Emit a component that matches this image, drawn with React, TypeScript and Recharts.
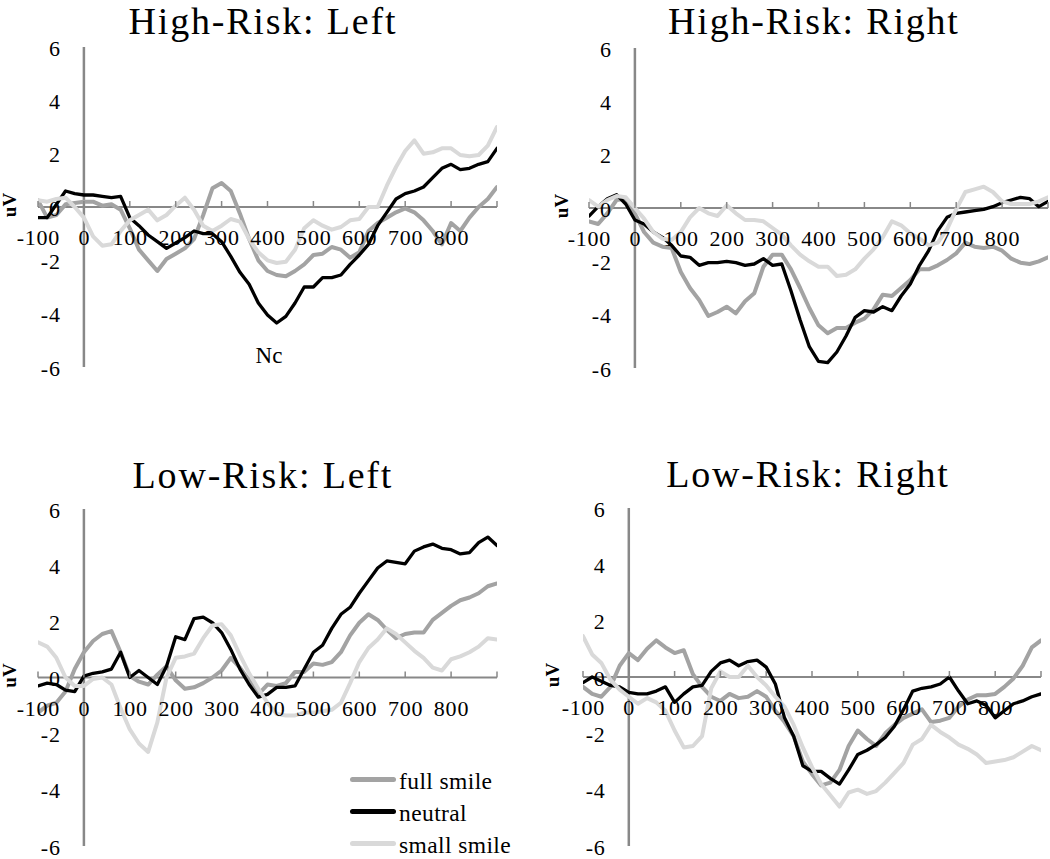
import React from 'react';
import { LineChart, Line, XAxis, YAxis, ReferenceLine, Legend } from 'recharts';

// ---- data ----
const times = [
  -100, -80, -60, -40, -20, 0, 20, 40, 60, 80,
  100, 120, 140, 160, 180, 200, 220, 240, 260, 280,
  300, 320, 340, 360, 380, 400, 420, 440, 460, 480,
  500, 520, 540, 560, 580, 600, 620, 640, 660, 680,
  700, 720, 740, 760, 780, 800, 820, 840, 860, 880,
  900,
];
const xTicks = [-100, 0, 100, 200, 300, 400, 500, 600, 700, 800, 900];
const xTickLabels = ['-100', '0', '100', '200', '300', '400', '500', '600', '700', '800', ''];
const yTicks = [-6, -4, -2, 0, 2, 4, 6];

const seriesNames = ['full smile', 'neutral', 'small smile'];
const panelTitles = ['High-Risk: Left', 'High-Risk: Right', 'Low-Risk: Left', 'Low-Risk: Right'];
const yAxisTitle = 'uV';
const noteText = 'Nc';

// High-Risk: Left
const hrLeftFull = [
  0.25, -0.4, -0.3, 0.1, 0.15, 0.2, 0.2, 0.05, 0.1, -0.1,
  -0.8, -1.6, -2.0, -2.4, -1.95, -1.75, -1.55, -1.2, -0.3, 0.7,
  0.9, 0.6, -0.25, -1.2, -2.0, -2.4, -2.55, -2.6, -2.4, -2.15,
  -1.8, -1.75, -1.5, -1.6, -1.9, -1.7, -0.9, -0.6, -0.4, -0.2,
  -0.05, -0.2, -0.5, -0.9, -1.4, -0.6, -0.9, -0.4, 0.0, 0.3,
  0.75,
];
const hrLeftNeutral = [
  -0.4, -0.4, 0.1, 0.6, 0.5, 0.45, 0.45, 0.4, 0.35, 0.4,
  -0.4, -0.7, -1.05, -1.3, -1.55, -1.35, -1.15, -0.9, -1.0, -1.0,
  -1.3, -1.85, -2.45, -2.9, -3.6, -4.05, -4.35, -4.1, -3.6, -3.0,
  -3.0, -2.65, -2.65, -2.55, -2.15, -1.8, -1.4, -0.7, -0.2, 0.3,
  0.5, 0.6, 0.75, 1.1, 1.45, 1.6, 1.4, 1.45, 1.6, 1.7,
  2.2,
];
const hrLeftSmall = [
  0.25, 0.2, 0.3, 0.35, 0.0, -0.4, -1.1, -1.45, -1.4, -0.9,
  -0.5, -0.3, -0.1, -0.5, -0.3, 0.05, 0.35, -0.1, -0.7, -0.9,
  -0.7, -0.45, -0.55, -1.2, -1.7, -2.0, -2.1, -2.05, -1.6, -0.8,
  -0.5, -0.7, -0.85, -0.75, -0.5, -0.45, 0.0, 0.0, 0.8, 1.5,
  2.1, 2.5, 2.0, 2.05, 2.2, 2.2, 1.95, 1.9, 1.95, 2.3,
  3.0,
];

// High-Risk: Right
const hrRightFull = [
  -0.5, -0.6, -0.2, 0.3, 0.35, -0.2, -0.9, -1.3, -1.45, -1.5,
  -2.4, -3.0, -3.45, -4.05, -3.9, -3.7, -3.95, -3.5, -3.2, -2.2,
  -1.75, -1.75, -2.3, -3.0, -3.75, -4.4, -4.7, -4.5, -4.5, -4.3,
  -4.15, -3.8, -3.25, -3.3, -3.0, -2.7, -2.3, -2.3, -2.15, -1.95,
  -1.7, -1.3, -1.45, -1.5, -1.45, -1.6, -1.9, -2.05, -2.1, -2.0,
  -1.85,
];
const hrRightNeutral = [
  -0.3, 0.05, 0.35, 0.5, 0.15, -0.45, -0.6, -0.9, -1.1, -1.4,
  -1.8, -1.85, -2.15, -2.05, -2.05, -2.0, -2.05, -2.15, -2.1, -1.9,
  -2.15, -2.1, -3.1, -4.2, -5.2, -5.75, -5.8, -5.4, -4.8, -4.1,
  -3.85, -3.9, -3.7, -3.85, -3.3, -2.85, -2.15, -1.6, -0.85, -0.35,
  -0.2, -0.15, -0.1, -0.05, 0.05, 0.2, 0.3, 0.4, 0.35, 0.05,
  0.25,
];
const hrRightSmall = [
  0.3, 0.05, 0.3, 0.45, 0.4, 0.0, -0.4, -0.9, -1.15, -1.2,
  -0.9, -0.35, 0.0, -0.2, -0.3, 0.1, -0.2, -0.45, -0.45, -0.5,
  -0.75, -1.0, -1.4, -1.75, -2.0, -2.2, -2.2, -2.55, -2.5, -2.3,
  -1.9, -1.55, -1.1, -0.5, -0.65, -0.95, -1.15, -1.4, -1.3, -0.8,
  -0.05, 0.6, 0.7, 0.8, 0.6, 0.25, 0.15, 0.15, 0.15, 0.25,
  0.4,
];

// Low-Risk: Left
const lrLeftFull = [
  -1.25, -1.0, -0.9, -0.5, 0.3, 0.9, 1.3, 1.55, 1.65, 0.9,
  0.05, -0.15, -0.25, 0.1, 0.4, -0.1, -0.4, -0.35, -0.2, 0.0,
  0.25, 0.7, 0.35, -0.1, -0.6, -0.25, -0.3, -0.2, 0.2, 0.2,
  0.5, 0.45, 0.55, 0.9, 1.5, 1.95, 2.25, 2.05, 1.7, 1.4,
  1.55, 1.6, 1.6, 2.05, 2.3, 2.55, 2.75, 2.85, 3.0, 3.25,
  3.35,
];
const lrLeftNeutral = [
  -0.3, -0.2, -0.25, -0.45, -0.5, 0.05, 0.15, 0.2, 0.3, 0.9,
  0.0, 0.25, 0.0, -0.25, 0.4, 1.45, 1.35, 2.1, 2.15, 1.95,
  1.6, 1.0, 0.3, -0.25, -0.7, -0.6, -0.35, -0.35, -0.3, 0.3,
  0.9, 1.15, 1.75, 2.25, 2.5, 3.0, 3.45, 3.9, 4.15, 4.1,
  4.05, 4.5, 4.65, 4.75, 4.6, 4.55, 4.4, 4.45, 4.8, 5.0,
  4.7,
];
const lrLeftSmall = [
  1.25, 1.1, 0.7, 0.0, -0.3, -0.3, -0.05, 0.0, -0.25, -1.1,
  -1.85, -2.35, -2.65, -1.6, 0.0, 0.7, 0.75, 0.85, 1.4, 1.85,
  1.9, 1.5, 0.8, 0.15, -0.4, -0.9, -1.3, -1.35, -1.35, -1.25,
  -1.25, -1.2, -1.15, -0.9, -0.2, 0.55, 1.05, 1.35, 1.75, 1.55,
  1.25, 0.95, 0.7, 0.35, 0.25, 0.65, 0.75, 0.9, 1.1, 1.4,
  1.35,
];

// Low-Risk: Right
const lrRightFull = [
  -0.35, -0.6, -0.7, -0.35, 0.4, 0.85, 0.6, 1.0, 1.3, 1.05,
  0.85, 0.95, 0.1, -0.35, -0.7, -0.85, -0.6, -0.75, -0.7, -0.5,
  -0.7, -1.2, -1.6, -2.1, -3.0, -3.45, -3.85, -3.75, -3.3, -2.45,
  -1.9, -2.2, -2.45, -2.0, -1.7, -1.45, -1.3, -1.15, -1.6, -1.55,
  -1.45, -1.05, -0.8, -0.65, -0.65, -0.6, -0.35, -0.05, 0.4, 1.05,
  1.3,
];
const lrRightNeutral = [
  -0.2, 0.0, -0.15, -0.3, -0.35, -0.55, -0.6, -0.6, -0.5, -0.35,
  -0.9, -0.6, -0.35, -0.3, 0.2, 0.5, 0.6, 0.4, 0.55, 0.6,
  0.35, -0.25, -1.45, -2.1, -3.15, -3.35, -3.35, -3.6, -3.8, -3.3,
  -2.75, -2.6, -2.4, -2.15, -1.75, -1.15, -0.5, -0.4, -0.35, -0.25,
  0.0, -0.5, -0.95, -0.85, -1.0, -1.45, -1.2, -0.95, -0.85, -0.7,
  -0.6,
];
const lrRightSmall = [
  1.45, 0.8, 0.5, -0.1, -0.45, -0.7, -0.95, -0.75, -0.9, -1.2,
  -1.9, -2.5, -2.45, -2.1, -0.4, 0.2, 0.0, 0.0, 0.4, 0.0,
  -0.3, -0.7, -1.05, -1.7, -2.5, -3.2, -3.8, -4.2, -4.6, -4.1,
  -4.0, -4.15, -4.05, -3.75, -3.4, -3.05, -2.4, -2.2, -1.7, -1.95,
  -2.15, -2.4, -2.55, -2.75, -3.05, -3.0, -2.95, -2.85, -2.65, -2.45,
  -2.6,
];

// ---- styling ----
const FONT = "'Liberation Serif', 'Times New Roman', serif";
const AXIS_COLOR = '#888888';
const TICK_FONT_SIZE = 22;
const TICK_SPACING = 0.8;
const TITLE_FONT_SIZE = 38;
const TITLE_SPACING = 1.8;
const seriesStyles = [
  { key: 'full', color: '#a3a3a3', width: 4 },
  { key: 'neutral', color: '#000000', width: 3.3 },
  { key: 'small', color: '#d9d9d9', width: 4 },
];

type Margin = { top: number; right: number; bottom: number; left: number };
type PanelDef = {
  title: string;
  left: number;
  top: number;
  width: number;
  height: number;
  margin: Margin; // plot-area margins (axis thickness of 1px is subtracted below)
  titleX: number;
  titleBase: number;
  uvOffset: number;
  full: number[];
  neutral: number[];
  small: number[];
  legend: boolean;
  note: boolean;
};

const panels: PanelDef[] = [
  {
    title: panelTitles[0], left: 0, top: 0, width: 525, height: 430,
    margin: { top: 47, right: 28, bottom: 63, left: 38 },
    titleX: 262, titleBase: 34, uvOffset: 29,
    full: hrLeftFull, neutral: hrLeftNeutral, small: hrLeftSmall, legend: false, note: true,
  },
  {
    title: panelTitles[1], left: 525, top: 0, width: 525, height: 430,
    margin: { top: 48, right: 2, bottom: 62, left: 64 },
    titleX: 813, titleBase: 34, uvOffset: 28,
    full: hrRightFull, neutral: hrRightNeutral, small: hrRightSmall, legend: false, note: false,
  },
  {
    title: panelTitles[2], left: 0, top: 430, width: 525, height: 429,
    margin: { top: 79, right: 28, bottom: 13, left: 38 },
    titleX: 262, titleBase: 488, uvOffset: 29,
    full: lrLeftFull, neutral: lrLeftNeutral, small: lrLeftSmall, legend: true, note: false,
  },
  {
    title: panelTitles[3], left: 525, top: 430, width: 525, height: 429,
    margin: { top: 78, right: 9, bottom: 13, left: 58 },
    titleX: 807, titleBase: 487, uvOffset: 31,
    full: lrRightFull, neutral: lrRightNeutral, small: lrRightSmall, legend: false, note: false,
  },
];

const X_DOMAIN: [number, number] = [-100, 900];
const Y_DOMAIN: [number, number] = [-6, 6];
const AXIS_THICK = 1;

const renderLegend = (props: any) => {
  const payload = props.payload || [];
  return (
    <div style={{ fontFamily: FONT, fontSize: 23.5, color: '#000', letterSpacing: 0.4, lineHeight: '24px' }}>
      {payload.map((p: any) => (
        <div key={p.value} style={{ display: 'flex', alignItems: 'center', height: 32 }}>
          <span
            style={{
              display: 'inline-block',
              width: 46,
              height: 5,
              borderRadius: 2.5,
              background: p.color,
              marginRight: 3,
              flex: 'none',
            }}
          />
          <span style={{ position: 'relative', top: 2, whiteSpace: 'nowrap' }}>{p.value}</span>
        </div>
      ))}
    </div>
  );
};

function Panel({ def }: { def: PanelDef }) {
  const data = times.map((t, i) => ({
    t,
    full: def.full[i],
    neutral: def.neutral[i],
    small: def.small[i],
  }));
  const plotW = def.width - def.margin.left - def.margin.right;
  const plotH = def.height - def.margin.top - def.margin.bottom;
  const zeroFracX = (0 - X_DOMAIN[0]) / (X_DOMAIN[1] - X_DOMAIN[0]);
  const zeroFracY = (Y_DOMAIN[1] - 0) / (Y_DOMAIN[1] - Y_DOMAIN[0]);
  const zeroXOff = plotW * zeroFracX;
  const zeroYFromBottom = plotH * (1 - zeroFracY);
  const chartMargin = {
    top: def.margin.top,
    right: def.margin.right,
    bottom: def.margin.bottom - AXIS_THICK,
    left: def.margin.left - AXIS_THICK,
  };

  const XTick = (props: any) => {
    const { x, y, payload, index } = props;
    const zy = y - zeroYFromBottom;
    const label = xTickLabels[xTicks.indexOf(payload.value)] ?? String(payload.value);
    return (
      <g key={`xt-${index}`}>
        <line x1={x} x2={x} y1={zy - 6} y2={zy} stroke={AXIS_COLOR} strokeWidth={1.5} />
        {label !== '' && (
          <text
            x={x + TICK_SPACING / 2}
            y={zy + 38}
            textAnchor="middle"
            fontFamily={FONT}
            fontSize={TICK_FONT_SIZE}
            letterSpacing={TICK_SPACING}
            fill="#000"
          >
            {label}
          </text>
        )}
      </g>
    );
  };

  const YTick = (props: any) => {
    const { x, y, payload, index } = props;
    return (
      <text
        key={`yt-${index}`}
        x={x + zeroXOff - 24 + TICK_SPACING}
        y={y + 8.5}
        textAnchor="end"
        fontFamily={FONT}
        fontSize={TICK_FONT_SIZE}
        letterSpacing={TICK_SPACING}
        fill="#000"
      >
        {payload.value}
      </text>
    );
  };

  return (
    <div
      style={{
        position: 'absolute',
        left: def.left,
        top: def.top,
        width: def.width,
        height: def.height,
      }}
    >
      <LineChart width={def.width} height={def.height} data={data} margin={chartMargin}>
        <XAxis
          dataKey="t"
          type="number"
          domain={X_DOMAIN}
          ticks={xTicks}
          interval={0}
          allowDataOverflow
          axisLine={false}
          tickLine={false}
          tickSize={0}
          tickMargin={0}
          height={AXIS_THICK}
          tick={XTick}
        />
        <YAxis
          type="number"
          domain={Y_DOMAIN}
          ticks={yTicks}
          interval={0}
          allowDataOverflow
          axisLine={false}
          tickLine={false}
          tickSize={0}
          tickMargin={0}
          width={AXIS_THICK}
          tick={YTick}
        />
        <ReferenceLine x={0} stroke={AXIS_COLOR} strokeWidth={2.5} />
        <ReferenceLine y={0} stroke={AXIS_COLOR} strokeWidth={2} />
        {seriesStyles.map((s, i) => (
          <Line
            key={s.key}
            dataKey={s.key}
            name={seriesNames[i]}
            type="linear"
            stroke={s.color}
            strokeWidth={s.width}
            strokeLinejoin="round"
            strokeLinecap="round"
            dot={false}
            activeDot={false}
            isAnimationActive={false}
          />
        ))}
        {def.legend && (
          <Legend
            layout="vertical"
            align="center"
            verticalAlign="middle"
            content={renderLegend}
            wrapperStyle={{ left: 350, top: 333, width: 175, height: 96 }}
          />
        )}
      </LineChart>
    </div>
  );
}

export default function App() {
  return (
    <div
      style={{
        position: 'absolute',
        left: 0,
        top: 0,
        width: 1050,
        height: 859,
        background: '#ffffff',
        overflow: 'hidden',
      }}
    >
      {panels.map((p, i) => (
        <Panel key={i} def={p} />
      ))}
      <svg
        width={1050}
        height={859}
        style={{ position: 'absolute', left: 0, top: 0, pointerEvents: 'none' }}
      >
        {panels.map((p, i) => {
          const plotH = p.height - p.margin.top - p.margin.bottom;
          const zeroY = p.top + p.margin.top + plotH / 2;
          const uvX = p.left + p.margin.left - p.uvOffset;
          return (
            <g key={i}>
              <text
                x={p.titleX + TITLE_SPACING / 2}
                y={p.titleBase}
                textAnchor="middle"
                fontFamily={FONT}
                fontSize={TITLE_FONT_SIZE}
                letterSpacing={TITLE_SPACING}
                fill="#000"
              >
                {p.title}
              </text>
              <text
                transform={`translate(${uvX + 1}, ${zeroY - 2}) rotate(-90)`}
                textAnchor="middle"
                dy="0.34em"
                fontFamily={FONT}
                fontSize={19}
                fontWeight="bold"
                fill="#000"
              >
                {yAxisTitle}
              </text>
              {p.note && (
                <text
                  x={269}
                  y={363}
                  textAnchor="middle"
                  fontFamily={FONT}
                  fontSize={23}
                  fill="#000"
                >
                  {noteText}
                </text>
              )}
            </g>
          );
        })}
      </svg>
    </div>
  );
}
